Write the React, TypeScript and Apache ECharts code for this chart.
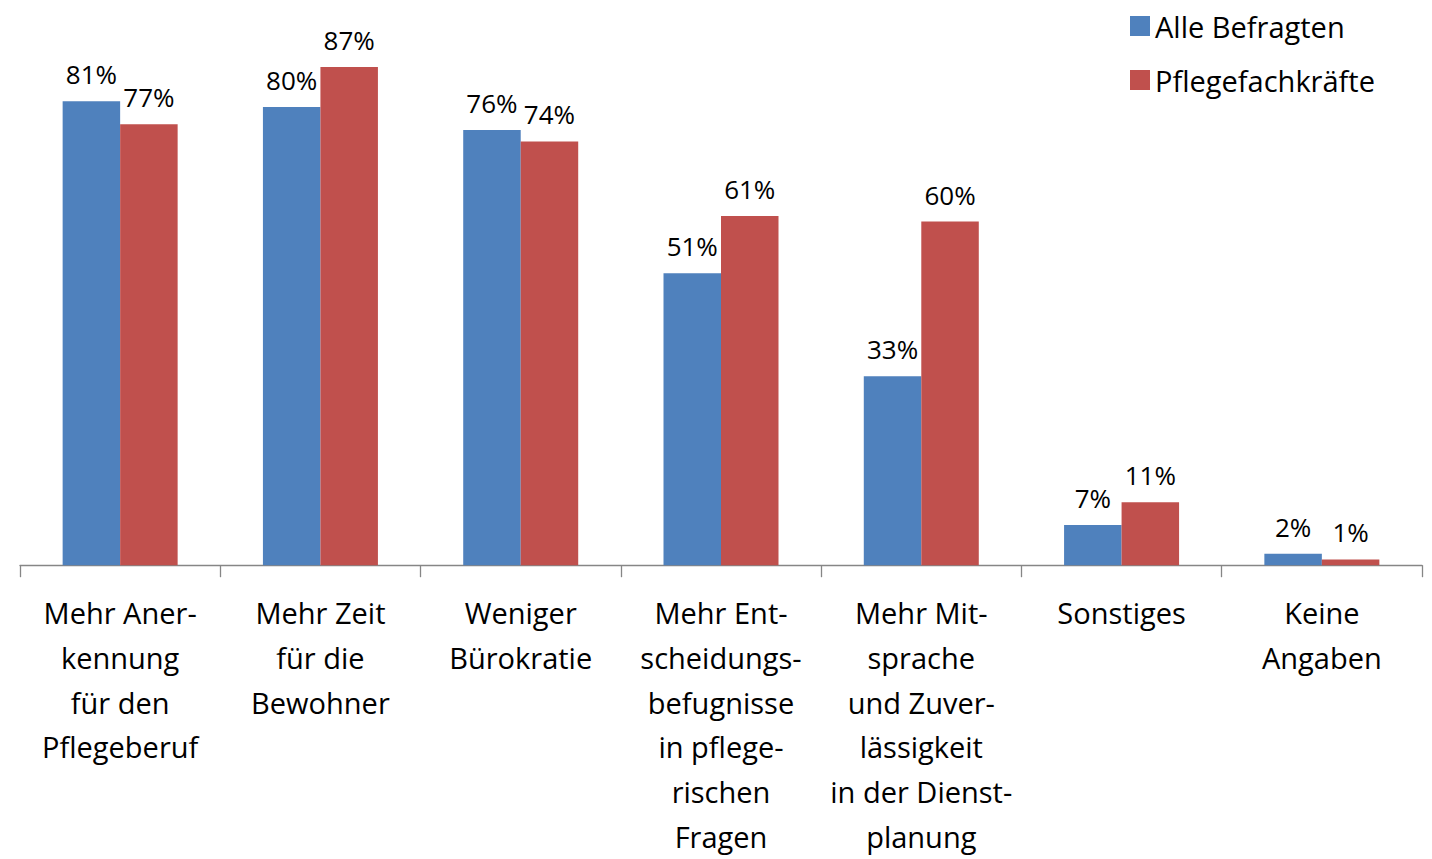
import React, { useEffect, useRef } from "react";
import * as echarts from "echarts";

const categories = [
  "Mehr Aner-\nkennung\nfür den\nPflegeberuf",
  "Mehr Zeit\nfür die\nBewohner",
  "Weniger\nBürokratie",
  "Mehr Ent-\nscheidungs-\nbefugnisse\nin pflege-\nrischen\nFragen",
  "Mehr Mit-\nsprache\nund Zuver-\nlässigkeit\nin der Dienst-\nplanung",
  "Sonstiges",
  "Keine\nAngaben",
];
const alleBefragten = [81, 80, 76, 51, 33, 7, 2];
const pflegefachkraefte = [77, 87, 74, 61, 60, 11, 1];

const FONT = "Open Sans";

export default function App() {
  const ref = useRef<HTMLDivElement>(null);
  useEffect(() => {
    if (!ref.current) return;
    const chart = echarts.init(ref.current, null, { renderer: "svg" });
    const label = {
      show: true,
      position: "top",
      distance: 14,
      formatter: "{c}%",
      color: "#000",
      fontFamily: FONT,
      fontSize: 26,
    };
    chart.setOption({
      animation: false,
      backgroundColor: "#fff",
      legend: {
        orient: "vertical",
        left: 1125,
        top: 6,
        itemWidth: 20,
        itemHeight: 20,
        itemGap: 24,
        itemTextGap: 10,
        itemStyle: { borderWidth: 0 },
        icon: "rect",
        textStyle: { fontFamily: FONT, fontSize: 29, color: "#000", lineHeight: 30 },
        data: ["Alle Befragten", "Pflegefachkräfte"],
      },
      grid: { left: 20, right: 10, top: 0, bottom: 290, containLabel: false },
      xAxis: {
        type: "category",
        data: categories,
        axisLine: { lineStyle: { color: "#868686", width: 1.3 } },
        axisTick: { show: true, length: 12, lineStyle: { color: "#868686", width: 1.3 } },
        axisLabel: {
          interval: 0,
          margin: 25,
          color: "#000",
          fontFamily: FONT,
          fontSize: 29,
          lineHeight: 44.8,
        },
      },
      yAxis: {
        type: "value",
        min: 0,
        max: 98.7,
        show: false,
        splitLine: { show: false },
      },
      series: [
        {
          name: "Alle Befragten",
          type: "bar",
          data: alleBefragten,
          barWidth: 57.5,
          barGap: "0%",
          itemStyle: { color: "#4F81BD" },
          label,
        },
        {
          name: "Pflegefachkräfte",
          type: "bar",
          data: pflegefachkraefte,
          barWidth: 57.5,
          barGap: "0%",
          itemStyle: { color: "#C0504D" },
          label,
        },
      ],
    });
    return () => chart.dispose();
  }, []);
  return <div ref={ref} style={{ width: 1432, height: 859, position: "absolute", left: 0, top: 0 }} />;
}
